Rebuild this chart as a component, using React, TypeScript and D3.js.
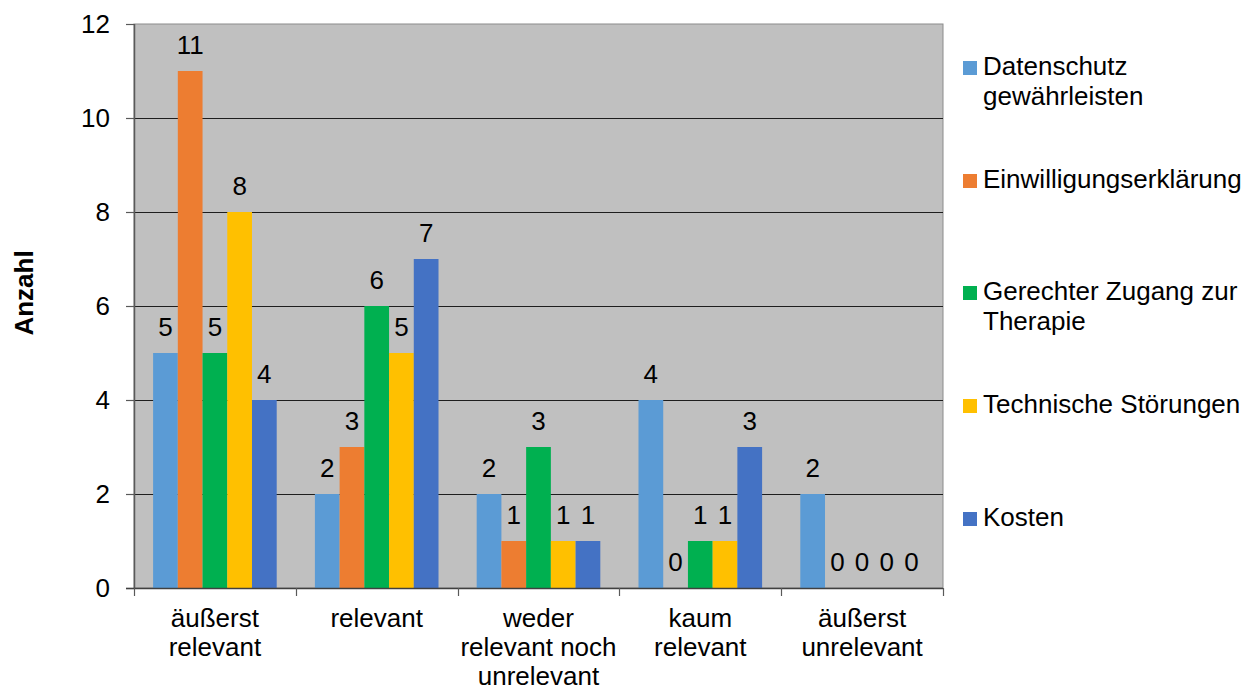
import React, { useEffect, useRef } from "react";
import * as d3 from "d3";

// Antwortkategorien (x-Achse)
const categories: string[][] = [
  ["äußerst", "relevant"],
  ["relevant"],
  ["weder", "relevant noch", "unrelevant"],
  ["kaum", "relevant"],
  ["äußerst", "unrelevant"],
];

// Reihen (Legende)
const seriesNames: string[][] = [
  ["Datenschutz", "gewährleisten"],
  ["Einwilligungserklärung"],
  ["Gerechter Zugang zur", "Therapie"],
  ["Technische Störungen"],
  ["Kosten"],
];
const seriesColors = ["#5B9BD5", "#ED7D31", "#00B050", "#FFC000", "#4472C4"];

// Anzahl pro Reihe und Kategorie
const datenschutz = [5, 2, 2, 4, 2];
const einwilligung = [11, 3, 1, 0, 0];
const zugang = [5, 6, 3, 1, 0];
const stoerungen = [8, 5, 1, 1, 0];
const kosten = [4, 7, 1, 3, 0];
const seriesValues = [datenschutz, einwilligung, zugang, stoerungen, kosten];

const yTicks = [0, 2, 4, 6, 8, 10, 12];

const W = 1249;
const H = 691;
const FONT = "'Liberation Sans', Arial, sans-serif";

export default function App() {
  const ref = useRef<SVGSVGElement | null>(null);

  useEffect(() => {
    const svg = d3.select(ref.current);
    svg.selectAll("*").remove();

    const left = 134, right = 943, top = 24, bottom = 588;
    const catKeys = categories.map((c) => c.join(" "));
    const x0 = d3.scaleBand<string>().domain(catKeys).range([left, right]).padding(0);
    const bw = x0.bandwidth();
    const gap = bw * 0.118;
    const x1 = d3
      .scaleBand<number>()
      .domain(d3.range(seriesValues.length))
      .range([gap, bw - gap])
      .padding(0);
    const y = d3.scaleLinear().domain([0, 12]).range([bottom, top]);

    // Plotfläche
    svg.append("rect")
      .attr("x", left).attr("y", top)
      .attr("width", right - left).attr("height", bottom - top)
      .attr("fill", "#C0C0C0")
      .attr("stroke", "#8C8C8C").attr("stroke-width", 1);

    // Gitternetzlinien
    svg.append("g").selectAll("line")
      .data(yTicks.filter((t) => t > 0 && t < 12))
      .join("line")
      .attr("x1", left).attr("x2", right)
      .attr("y1", (d) => Math.round(y(d)) + 0.5).attr("y2", (d) => Math.round(y(d)) + 0.5)
      .attr("stroke", "#1E1E1E").attr("stroke-width", 1);

    // Balken
    const groups = svg.append("g").selectAll("g")
      .data(catKeys)
      .join("g")
      .attr("transform", (d) => `translate(${x0(d)},0)`);

    groups.each(function (cat, ci) {
      const g = d3.select(this);
      seriesValues.forEach((vals, si) => {
        const v = vals[ci];
        const bx = x1(si)!;
        if (v > 0) {
          g.append("rect")
            .attr("x", bx).attr("y", y(v))
            .attr("width", x1.bandwidth()).attr("height", y(0) - y(v))
            .attr("fill", seriesColors[si]);
        }
        g.append("text")
          .attr("x", bx + x1.bandwidth() / 2)
          .attr("y", y(v) - 17)
          .attr("text-anchor", "middle")
          .attr("font-family", FONT).attr("font-size", 26)
          .attr("fill", "#000")
          .text(String(v));
      });
    });

    // Y-Achse
    svg.append("line")
      .attr("x1", left + 0.5).attr("x2", left + 0.5)
      .attr("y1", top).attr("y2", bottom)
      .attr("stroke", "#595959").attr("stroke-width", 1.5);
    svg.append("g").selectAll("line")
      .data(yTicks).join("line")
      .attr("x1", left - 8).attr("x2", left)
      .attr("y1", (d) => Math.round(y(d)) + 0.5).attr("y2", (d) => Math.round(y(d)) + 0.5)
      .attr("stroke", "#595959").attr("stroke-width", 1.2);
    svg.append("g").selectAll("text")
      .data(yTicks).join("text")
      .attr("x", 110).attr("y", (d) => y(d) + 9.3)
      .attr("text-anchor", "end")
      .attr("font-family", FONT).attr("font-size", 26)
      .attr("fill", "#000")
      .text((d) => String(d));

    // X-Achse
    svg.append("line")
      .attr("x1", left - 8).attr("x2", right)
      .attr("y1", bottom + 0.5).attr("y2", bottom + 0.5)
      .attr("stroke", "#404040").attr("stroke-width", 1.5);
    const bounds = [...catKeys.map((c) => x0(c)!), right];
    svg.append("g").selectAll("line")
      .data(bounds).join("line")
      .attr("x1", (d) => Math.round(d) + 0.5).attr("x2", (d) => Math.round(d) + 0.5)
      .attr("y1", bottom).attr("y2", bottom + 8)
      .attr("stroke", "#595959").attr("stroke-width", 1.2);

    const catLabels = svg.append("g").selectAll("text")
      .data(categories).join("text")
      .attr("text-anchor", "middle")
      .attr("font-family", FONT).attr("font-size", 26)
      .attr("fill", "#000");
    catLabels.each(function (lines, i) {
      const cx = x0(catKeys[i])! + bw / 2;
      d3.select(this).selectAll("tspan")
        .data(lines).join("tspan")
        .attr("x", cx)
        .attr("y", (_d, li) => 627 + li * 29)
        .text((d) => d);
    });

    // Achsentitel
    svg.append("text")
      .attr("transform", "translate(33,293) rotate(-90)")
      .attr("text-anchor", "middle")
      .attr("font-family", FONT).attr("font-size", 26).attr("font-weight", "bold")
      .attr("fill", "#000")
      .text("Anzahl");

    // Legende
    const legendBase = [75, 188, 300, 413, 526];
    const leg = svg.append("g").selectAll("g")
      .data(seriesNames).join("g");
    leg.append("rect")
      .attr("x", 963).attr("y", (_d, i) => legendBase[i] - 14)
      .attr("width", 14).attr("height", 14)
      .attr("fill", (_d, i) => seriesColors[i]);
    leg.each(function (lines, i) {
      const t = d3.select(this).append("text")
        .attr("font-family", FONT).attr("font-size", 26)
        .attr("fill", "#000");
      t.selectAll("tspan").data(lines).join("tspan")
        .attr("x", 983)
        .attr("y", (_d, li) => legendBase[i] + li * 30)
        .text((d) => d);
    });
  }, []);

  return (
    <svg ref={ref} width={W} height={H} style={{ display: "block", position: "absolute", left: 0, top: 0, background: "#fff" }} />
  );
}
